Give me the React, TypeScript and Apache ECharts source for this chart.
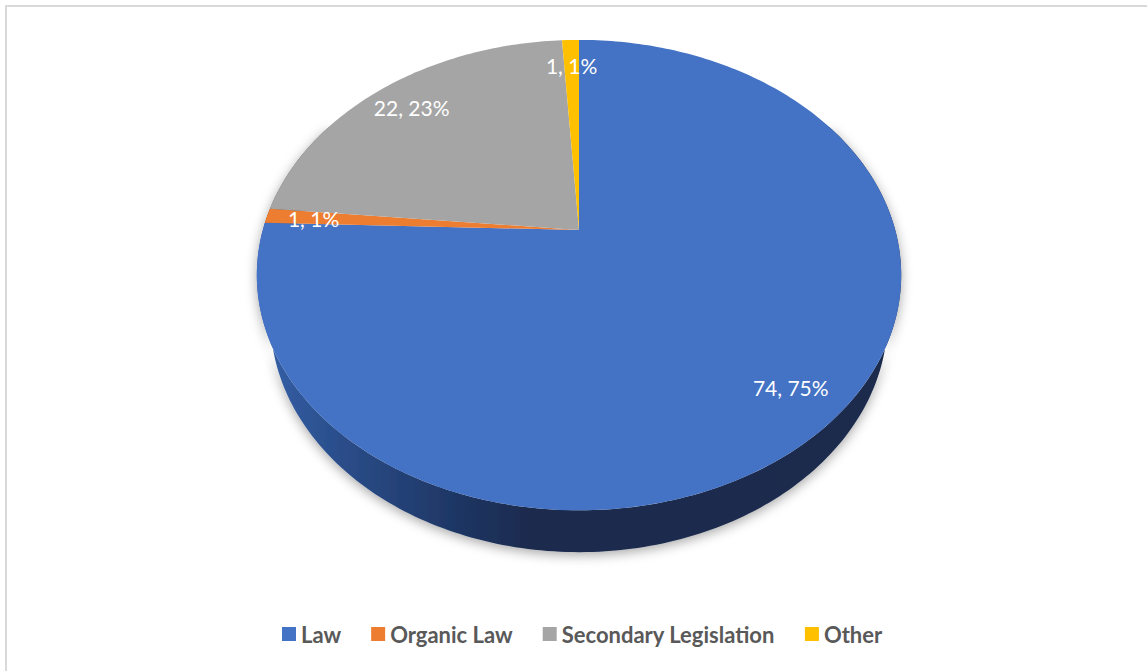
import React, { useEffect, useRef } from "react";
import * as echarts from "echarts";

const categories = ["Law", "Organic Law", "Secondary Legislation", "Other"];
const values = [74, 1, 22, 1];
const percentLabels = ["75%", "1%", "23%", "1%"];
const colors = ["#4472C4", "#ED7D31", "#A5A5A5", "#FFC000"];
const wallColors = ["#1b2a4e", "#8a4412", "#5e5e5e", "#8f6c00"];

// projection of a tilted disc with perspective
const CX = 579;
const CY = 230;
const F = 1151;
const DIST = 3.64;
const SIN_T = 0.7165;
const COS_T = 0.698;
const DEPTH = 0.215;
const LABEL_R = 0.85;

function proj(X: number, Z: number, Y: number): number[] {
  const yc = Y * COS_T - Z * SIN_T;
  const d = DIST - Z * COS_T - Y * SIN_T;
  return [CX + (F * X) / d, CY - (F * yc) / d];
}

function rim(a0: number, a1: number, Y: number): number[][] {
  const pts: number[][] = [];
  const n = Math.max(2, Math.ceil(((a1 - a0) * 180) / Math.PI));
  for (let k = 0; k <= n; k++) {
    const a = a0 + ((a1 - a0) * k) / n;
    pts.push(proj(Math.sin(a), -Math.cos(a), Y));
  }
  return pts;
}

function sliceAngles(): number[][] {
  const total = values.reduce((s, v) => s + v, 0);
  let acc = 0;
  return values.map((v) => {
    const a0 = (acc / total) * Math.PI * 2;
    acc += v;
    const a1 = (acc / total) * Math.PI * 2;
    return [a0, a1];
  });
}

export default function App() {
  const ref = useRef<HTMLDivElement>(null);
  useEffect(() => {
    if (!ref.current) return;
    const chart = echarts.init(ref.current, undefined, { renderer: "svg" });
    const angles = sliceAngles();
    const fontFamily = "Lato, 'Noto Sans', sans-serif";

    const wallGradient = new echarts.graphic.LinearGradient(
      257, 0, 901, 0,
      [
        { offset: 0, color: "#3561aa" },
        { offset: 0.12, color: "#2b4f8c" },
        { offset: 0.3, color: "#1f3766" },
        { offset: 0.42, color: "#1b2b4e" },
        { offset: 1, color: "#1a2a4c" },
      ],
      true
    );

    const wallSeries: any = {
      type: "custom",
      name: "walls",
      coordinateSystem: "none",
      z: 1,
      silent: true,
      data: values.map((v, i) => [i, v]),
      renderItem: (params: any) => {
        const i = params.dataIndex;
        const lo = Math.max(angles[i][0], Math.PI / 3);
        const hi = Math.min(angles[i][1], (Math.PI * 5) / 3);
        if (hi <= lo) return { type: "group", children: [] };
        const top = rim(lo, hi, 0);
        const bottom = rim(lo, hi, -DEPTH).reverse();
        return {
          type: "polygon",
          shape: { points: top.concat(bottom) },
          style: {
            fill: i === 0 ? wallGradient : wallColors[i],
            shadowBlur: 12,
            shadowColor: "rgba(0,0,0,0.35)",
            shadowOffsetY: 3,
          },
        };
      },
    };

    const topSeries: any[] = categories.map((name, i) => ({
      type: "custom",
      name,
      coordinateSystem: "none",
      z: 2,
      itemStyle: { color: colors[i] },
      data: [[i, values[i]]],
      renderItem: () => {
        const [a0, a1] = angles[i];
        const pts = [proj(0, 0, 0)].concat(rim(a0, a1, 0));
        return {
          type: "polygon",
          shape: { points: pts },
          style: { fill: colors[i] },
        };
      },
    }));

    const labelSeries: any = {
      type: "custom",
      name: "labels",
      coordinateSystem: "none",
      z: 4,
      silent: true,
      data: values.map((v, i) => [i, v]),
      renderItem: (params: any) => {
        const i = params.dataIndex;
        const mid = (angles[i][0] + angles[i][1]) / 2;
        const p = proj(LABEL_R * Math.sin(mid), -LABEL_R * Math.cos(mid), 0);
        return {
          type: "text",
          x: p[0],
          y: p[1] + 1,
          style: {
            text: `${values[i]}, ${percentLabels[i]}`,
            fill: "#ffffff",
            fontSize: 21,
            fontFamily,
            align: "center",
            verticalAlign: "middle",
          },
        };
      },
    };

    chart.setOption({
      animation: false,
      backgroundColor: "#ffffff",
      graphic: [
        {
          type: "rect",
          shape: { x: 6, y: 6, width: 1200, height: 700 },
          style: { fill: "none", stroke: "#d9d9d9", lineWidth: 2 },
          silent: true,
          z: 0,
        },
      ],
      legend: {
        data: categories,
        bottom: 21,
        left: 277,
        icon: "rect",
        itemWidth: 14,
        itemHeight: 14,
        itemGap: 30,
        textStyle: {
          fontSize: 22,
          fontWeight: "bold",
          color: "#595959",
          fontFamily,
        },
        selectedMode: false,
      },
      series: [wallSeries, ...topSeries, labelSeries],
    });
    return () => chart.dispose();
  }, []);
  return (
    <div
      ref={ref}
      style={{ position: "fixed", left: 0, top: 0, width: 1147, height: 671 }}
    />
  );
}
